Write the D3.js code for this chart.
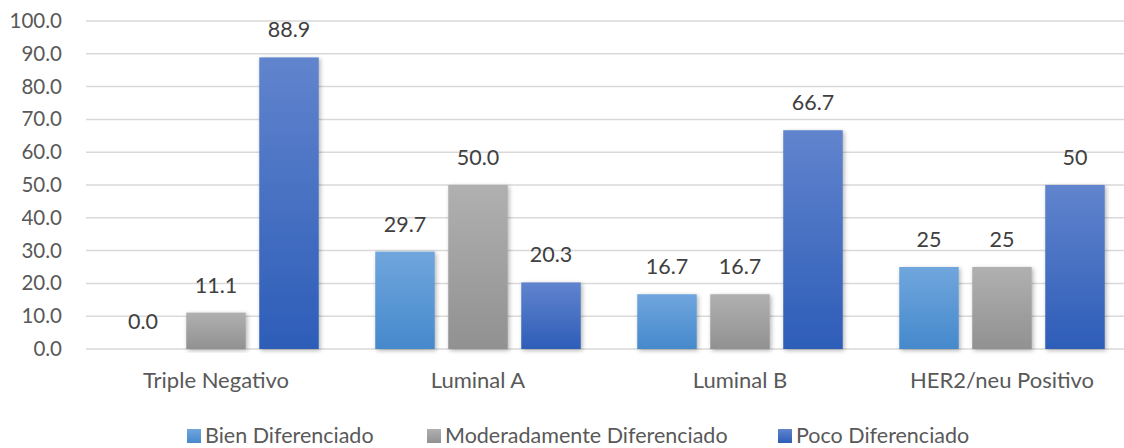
<!DOCTYPE html>
<html>
<head>
<meta charset="utf-8">
<script src="https://cdn.jsdelivr.net/npm/d3@7"></script>
<style>
  html, body { margin: 0; padding: 0; background: #fff; }
  svg { display: block; font-family: Lato, "Open Sans", sans-serif; }
</style>
</head>
<body>
<svg id="chart" width="1124" height="448"></svg>
<script>
// Subtypes on the x axis
const categories = ["Triple Negativo", "Luminal A", "Luminal B", "HER2/neu Positivo"];
// Histological grade series
const seriesNames = ["Bien Diferenciado", "Moderadamente Diferenciado", "Poco Diferenciado"];
const bienValues = [0.0, 29.7, 16.7, 25];
const moderadoValues = [11.1, 50.0, 16.7, 25];
const pocoValues = [88.9, 20.3, 66.7, 50];
// Labels as printed above each bar
const bienLabels = ["0.0", "29.7", "16.7", "25"];
const moderadoLabels = ["11.1", "50.0", "16.7", "25"];
const pocoLabels = ["88.9", "20.3", "66.7", "50"];
const yTicks = [0, 10, 20, 30, 40, 50, 60, 70, 80, 90, 100];

const series = [
  { name: seriesNames[0], values: bienValues, labels: bienLabels, c1: "#70a6dd", c2: "#4589cc", key: "bien" },
  { name: seriesNames[1], values: moderadoValues, labels: moderadoLabels, c1: "#b0b0b0", c2: "#919191", key: "mod" },
  { name: seriesNames[2], values: pocoValues, labels: pocoLabels, c1: "#6184cd", c2: "#2d5db8", key: "poco" }
];

const svg = d3.select("#chart");
const plotL = 85, plotR = 1133, plotT = 21, plotB = 349;

const x0 = d3.scaleBand().domain(categories).range([plotL, plotR]).paddingInner(0).paddingOuter(0);
const y = d3.scaleLinear().domain([0, 100]).range([plotB, plotT]);
const step = 73, barW = 59.5;
const x1 = d3.scaleLinear().domain([0, 2]).range([-step, step]);

// Gradients and shadow
const defs = svg.append("defs");
series.forEach(s => {
  const g = defs.append("linearGradient").attr("id", "grad-" + s.key)
    .attr("x1", 0).attr("y1", 0).attr("x2", 0).attr("y2", 1);
  g.append("stop").attr("offset", "0%").attr("stop-color", s.c1);
  g.append("stop").attr("offset", "100%").attr("stop-color", s.c2);
});
const f = defs.append("filter").attr("id", "shadow")
  .attr("x", "-20%").attr("y", "-10%").attr("width", "140%").attr("height", "120%");
f.append("feDropShadow").attr("dx", 1.5).attr("dy", 1.5).attr("stdDeviation", 2)
  .attr("flood-color", "#000").attr("flood-opacity", 0.3);

// Gridlines
svg.append("g").selectAll("line").data(yTicks).join("line")
  .attr("x1", plotL + 1).attr("x2", plotR)
  .attr("y1", d => y(d)).attr("y2", d => y(d))
  .attr("stroke", "#d9d9d9").attr("stroke-width", 1.5);

// Y axis labels
const yAxis = d3.axisLeft(y).tickValues(yTicks).tickFormat(d3.format(".1f")).tickSize(0).tickPadding(0);
const ya = svg.append("g").attr("transform", "translate(62,0)").call(yAxis);
ya.select(".domain").remove();
ya.selectAll("text").attr("font-family", "Lato, sans-serif").attr("font-size", 20.5).attr("fill", "#595959");

// Bars and value labels
series.forEach((s, i) => {
  const g = svg.append("g");
  const xc = c => x0(c) + x0.bandwidth() / 2 + x1(i);
  const val = c => s.values[categories.indexOf(c)];
  g.selectAll("rect").data(categories.filter(c => val(c) > 0)).join("rect")
    .attr("x", c => xc(c) - barW / 2)
    .attr("y", c => y(val(c)))
    .attr("width", barW)
    .attr("height", c => y(0) - y(val(c)))
    .attr("fill", "url(#grad-" + s.key + ")")
    .attr("filter", "url(#shadow)");
  g.selectAll("text").data(categories).join("text")
    .attr("x", xc)
    .attr("y", c => y(val(c)) - 20)
    .attr("text-anchor", "middle")
    .attr("font-size", 21.5).attr("fill", "#404040")
    .text((c, j) => s.labels[j]);
});

// X axis category labels
const xAxis = d3.axisBottom(x0).tickSize(0).tickPadding(0);
const xa = svg.append("g").attr("transform", "translate(0,388)").call(xAxis);
xa.select(".domain").remove();
xa.selectAll("text").attr("font-family", "Lato, sans-serif").attr("font-size", 22).attr("fill", "#595959")
  .attr("dy", 0);

// Legend
const legendX = [187, 427, 778];
const lg = svg.append("g");
series.forEach((s, i) => {
  lg.append("rect").attr("x", legendX[i]).attr("y", 429).attr("width", 14).attr("height", 14)
    .attr("fill", "url(#grad-" + s.key + ")");
  lg.append("text").attr("x", legendX[i] + 18).attr("y", 443)
    .attr("font-size", 21.5).attr("fill", "#595959").text(s.name);
});
</script>
</body>
</html>
